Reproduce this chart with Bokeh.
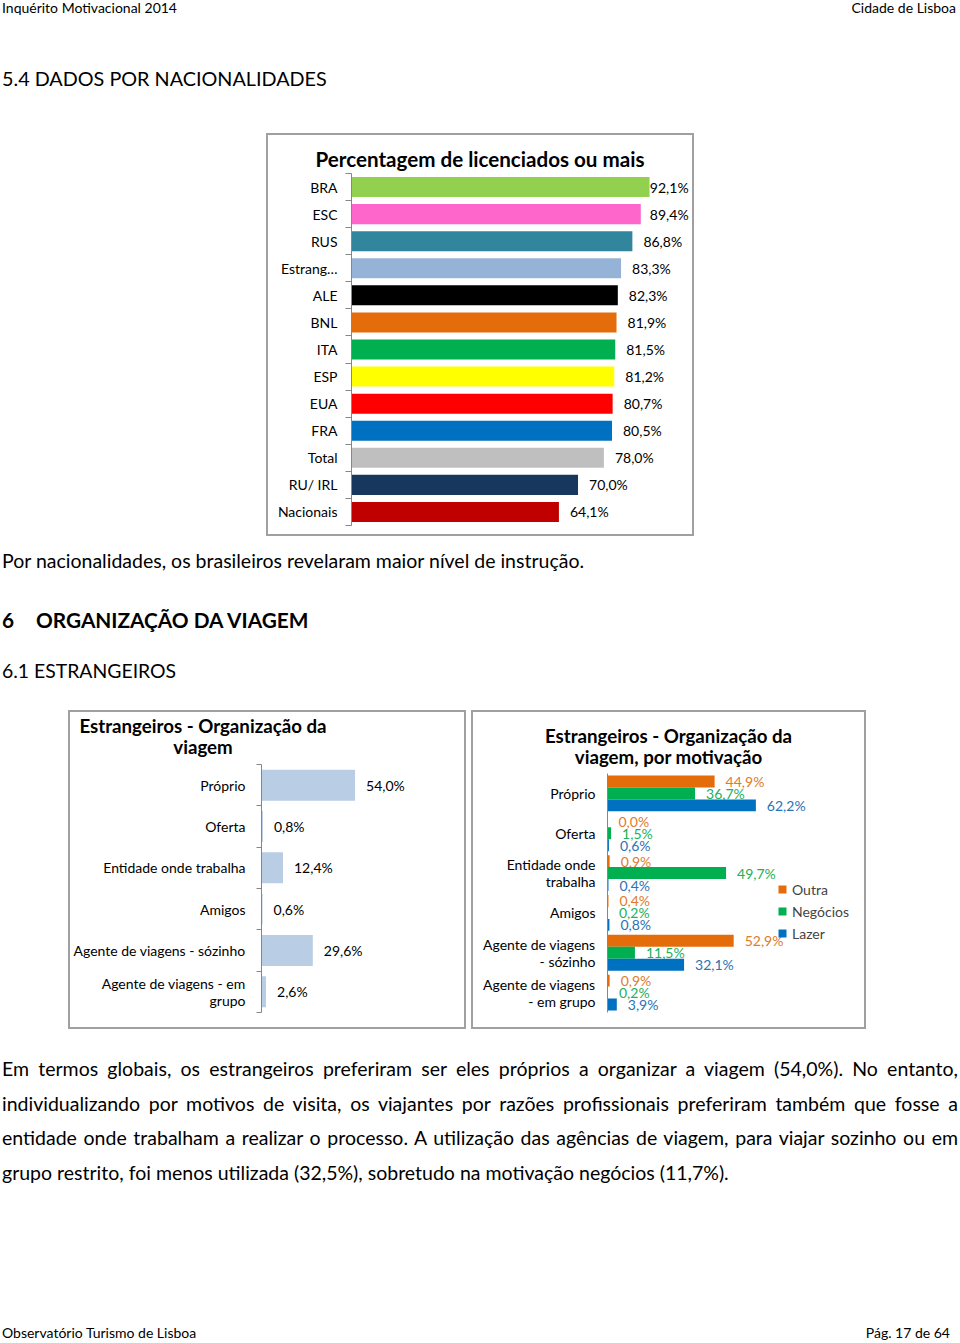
import numpy as np
from bokeh.plotting import figure
from bokeh.models import (Div, Spacer, Range1d, FixedTicker, LinearAxis, Legend,
                          LegendItem, ColumnDataSource)
from bokeh.layouts import column, row
from bokeh.embed import file_html
from bokeh.resources import INLINE
from bokeh.core.properties import value

FONT = "Lato"
BORDER = "#a0a0a0"
AXIS = "#868686"

# ---------------- data ----------------
nat_categories = ["BRA", "ESC", "RUS", "Estrang…", "ALE", "BNL", "ITA", "ESP",
                  "EUA", "FRA", "Total", "RU/ IRL", "Nacionais"]
nat_values = [92.1, 89.4, 86.8, 83.3, 82.3, 81.9, 81.5, 81.2, 80.7, 80.5, 78.0, 70.0, 64.1]
nat_colors = ["#92d050", "#ff66cc", "#31859c", "#95b3d7", "#000000", "#e46c0a",
              "#00b050", "#ffff00", "#ff0000", "#0070c0", "#bfbfbf", "#17375e", "#c00000"]

org_categories = ["Próprio", "Oferta", "Entidade onde trabalha", "Amigos",
                  "Agente de viagens - sózinho", "Agente de viagens - em\ngrupo"]
org_values = [54.0, 0.8, 12.4, 0.6, 29.6, 2.6]

mot_categories = ["Próprio", "Oferta", "Entidade onde\ntrabalha", "Amigos",
                  "Agente de viagens\n- sózinho", "Agente de viagens\n- em grupo"]
mot_series = ["Outra", "Negócios", "Lazer"]
mot_outra = [44.9, 0.0, 0.9, 0.4, 52.9, 0.9]
mot_negocios = [36.7, 1.5, 49.7, 0.2, 11.5, 0.2]
mot_lazer = [62.2, 0.6, 0.4, 0.8, 32.1, 3.9]
mot_colors = ["#e46c0a", "#00b050", "#0070c0"]
mot_label_colors = ["#e07b2c", "#22b05a", "#2a72b5"]


def pct(v):
    return f"{v:.1f}".replace(".", ",") + "%"


def make_fig(w, h, xr, yr, ml, mr, mt, mb):
    p = figure(width=w, height=h, x_range=xr, y_range=yr, title=None,
               output_backend="svg", toolbar_location=None, tools="",
               x_axis_location=None, y_axis_location=None,
               min_border_left=ml, min_border_right=mr,
               min_border_top=mt, min_border_bottom=mb,
               outline_line_color=None, background_fill_color="white",
               border_fill_color="white", margin=0)
    p.xgrid.visible = False
    p.ygrid.visible = False
    return p


def add_cat_axis(p, ypos, labels, standoff, ticks_out, size="14px"):
    n = len(labels)
    bounds = [i - 0.5 for i in range(n + 1)]
    ax = LinearAxis(
        ticker=FixedTicker(ticks=ypos, minor_ticks=bounds if ticks_out else []),
        major_label_overrides={int(y): lab for y, lab in zip(ypos, labels)},
        major_tick_line_color=None, major_tick_out=0, major_tick_in=0,
        minor_tick_out=ticks_out, minor_tick_in=0,
        minor_tick_line_color=AXIS if ticks_out else None,
        axis_line_color=AXIS, axis_line_width=1,
        major_label_standoff=standoff, major_label_text_font=FONT,
        major_label_text_font_size=size, major_label_text_color="#000000",
        major_label_text_line_height=1.0)
    p.add_layout(ax, "left")


def bdiv(w, h):
    return Div(text="", width=w, height=h, margin=0,
               styles={"background-color": BORDER})


def boxed(items, w, h):
    inner = column(*items, spacing=0, margin=0)
    return column(bdiv(w, 2),
                  row(bdiv(2, h - 4), inner, bdiv(2, h - 4), spacing=0, margin=0),
                  bdiv(w, 2), spacing=0, margin=0)


def title_div(w, h, lines, top, center_w, size, lh=21):
    html = (f'<div style="position:relative;width:{w}px;height:{h}px;">'
            f'<div style="position:absolute;left:0px;top:{top}px;width:{center_w}px;'
            f'text-align:center;line-height:{lh}px;font-family:{FONT};font-weight:bold;'
            f'font-size:{size}px;color:#000;white-space:nowrap;">' + "<br>".join(lines) + '</div></div>')
    return Div(text=html, width=w, height=h, margin=0)


# ---------------- chart 1 ----------------
n1 = len(nat_categories)
y1 = list(range(n1 - 1, -1, -1))
src1 = ColumnDataSource(dict(y=y1, v=nat_values, c=nat_colors,
                             lab=[pct(v) for v in nat_values],
                             lx=[min(v, 88.8) for v in nat_values]))
p1 = make_fig(424, 363, Range1d(0, 104.76), Range1d(-0.5, n1 - 0.5), 83, 2, 2, 9)
p1.hbar(y="y", right="v", left=0, height=0.74, fill_color="c", line_color=None, source=src1)
p1.text(x="lx", y="y", text="lab", x_offset=11, text_font=value(FONT),
        text_font_size="14px", text_baseline="middle", text_align="left",
        text_color="#000000", source=src1)
add_cat_axis(p1, y1, nat_categories, 8, 6)
t1 = title_div(424, 36, ["Percentagem de licenciados ou mais"], 12, 424, 20.6, 24)
box1 = boxed([t1, p1], 428, 403)

# ---------------- chart 2 ----------------
n2 = len(org_categories)
y2 = list(range(n2 - 1, -1, -1))
src2 = ColumnDataSource(dict(y=y2, v=org_values, lab=[pct(v) for v in org_values]))
p2 = make_fig(394, 269, Range1d(0, 116.0), Range1d(-0.5, n2 - 0.5), 190, 2, 6, 15)
p2.hbar(y="y", right="v", left=0, height=0.75, fill_color="#b9cde5", line_color=None, source=src2)
p2.text(x="v", y="y", text="lab", x_offset=11, text_font=value(FONT),
        text_font_size="14px", text_baseline="middle", text_align="left",
        text_color="#000000", source=src2)
add_cat_axis(p2, y2, org_categories, 11, 5)
t2 = title_div(394, 46, ["Estrangeiros - Organização da", "viagem"], 3.5, 266, 18.7)
box2 = boxed([t2, p2], 398, 319)

# ---------------- chart 3 ----------------
n3 = len(mot_categories)
y3 = np.arange(n3 - 1, -1, -1)
p3 = make_fig(391, 258, Range1d(0, 106.9), Range1d(-0.5, n3 - 0.5), 134, 2, 4, 15)
offsets = [0.30, 0.0, -0.30]
legend_items = []
for vals, col, lcol, off, name in zip([mot_outra, mot_negocios, mot_lazer], mot_colors,
                                      mot_label_colors, offsets, mot_series):
    s = ColumnDataSource(dict(y=y3 + off, v=vals, lab=[pct(v) for v in vals]))
    p3.hbar(y="y", right="v", left=0, height=0.30, fill_color=col, line_color=None, source=s)
    p3.text(x="v", y="y", text="lab", x_offset=11, text_font=value(FONT),
            text_font_size="14px", text_baseline="middle", text_align="left",
            text_color=lcol, source=s)
    proxy = p3.scatter(x="v", y="y", source=s, marker="square", size=8,
                       fill_color=col, line_color=None, visible=False)
    legend_items.append(LegendItem(label=name, renderers=[proxy]))
add_cat_axis(p3, list(y3), mot_categories, 12, 0)
leg = Legend(items=legend_items, location=(165, 69), glyph_width=20, glyph_height=20,
             label_height=20, spacing=2, padding=0, margin=0, label_standoff=-4,
             border_line_color=None, background_fill_alpha=0, inactive_fill_alpha=0,
             label_text_font=FONT, label_text_font_size="14px")
p3.add_layout(leg)
t3 = title_div(391, 57, ["Estrangeiros - Organização da", "viagem, por motivação"], 13.5, 391, 18.7)
box3 = boxed([t3, p3], 395, 319)

# ---------------- page text ----------------
def txt(left, top, s, size, lh, weight="normal", extra=""):
    return (f'<div style="position:absolute;left:{left}px;top:{top}px;line-height:{lh}px;'
            f'font-size:{size}px;font-weight:{weight};white-space:nowrap;{extra}">{s}</div>')

top_html = ('<div style="position:relative;width:960px;height:133px;font-family:Lato;color:#000;">'
            + txt(2, 0, "Inquérito Motivacional 2014", 14, 16)
            + '<div style="position:absolute;right:4px;top:0px;line-height:16px;font-size:14px;white-space:nowrap;">Cidade de Lisboa</div>'
            + txt(2, 66, "5.4 DADOS POR NACIONALIDADES", 19.8, 24)
            + '</div>')
top_div = Div(text=top_html, width=960, height=133, margin=0)

mid_html = ('<div style="position:relative;width:960px;height:174px;font-family:Lato;color:#000;">'
            + txt(2, 13, "Por nacionalidades, os brasileiros revelaram maior nível de instrução.", 19.5, 24)
            + txt(2, 72, "6", 20.8, 24, "bold")
            + txt(36, 72, "ORGANIZAÇÃO DA VIAGEM", 20.8, 24, "bold")
            + txt(2, 123, "6.1 ESTRANGEIROS", 19.4, 24)
            + '</div>')
mid_div = Div(text=mid_html, width=960, height=174, margin=0)

para_lines = [
    "Em termos globais, os estrangeiros preferiram ser eles próprios a organizar a viagem (54,0%). No entanto,",
    "individualizando por motivos de visita, os viajantes por razões profissionais preferiram também que fosse a",
    "entidade onde trabalham a realizar o processo. A utilização das agências de viagem, para viajar sozinho ou em",
    "grupo restrito, foi menos utilizada (32,5%), sobretudo na motivação negócios (11,7%).",
]
para_centers = [40, 75, 109, 144]
bot_html = '<div style="position:relative;width:960px;height:314px;font-family:Lato;color:#000;">'
for i, (ln, c) in enumerate(zip(para_lines, para_centers)):
    just = "text-align:justify;text-align-last:justify;" if i < 3 else "text-align:left;"
    bot_html += (f'<div style="position:absolute;left:2px;top:{c - 12}px;width:956px;'
                 f'line-height:24px;font-size:19.5px;{just}">{ln}</div>')
bot_html += txt(2, 296, "Observatório Turismo de Lisboa", 14, 16)
bot_html += '<div style="position:absolute;right:10px;top:296px;line-height:16px;font-size:14px;white-space:nowrap;">Pág. 17 de 64</div>'
bot_html += '</div>'
bot_div = Div(text=bot_html, width=960, height=314, margin=0)

page = column(
    top_div,
    row(Spacer(width=266, height=403, margin=0), box1, Spacer(width=266, height=403, margin=0),
        spacing=0, margin=0),
    mid_div,
    row(Spacer(width=68, height=319, margin=0), box2, Spacer(width=5, height=319, margin=0),
        box3, Spacer(width=94, height=319, margin=0), spacing=0, margin=0),
    bot_div,
    spacing=0, margin=0)

open("out.html", "w").write(file_html(page, INLINE))
